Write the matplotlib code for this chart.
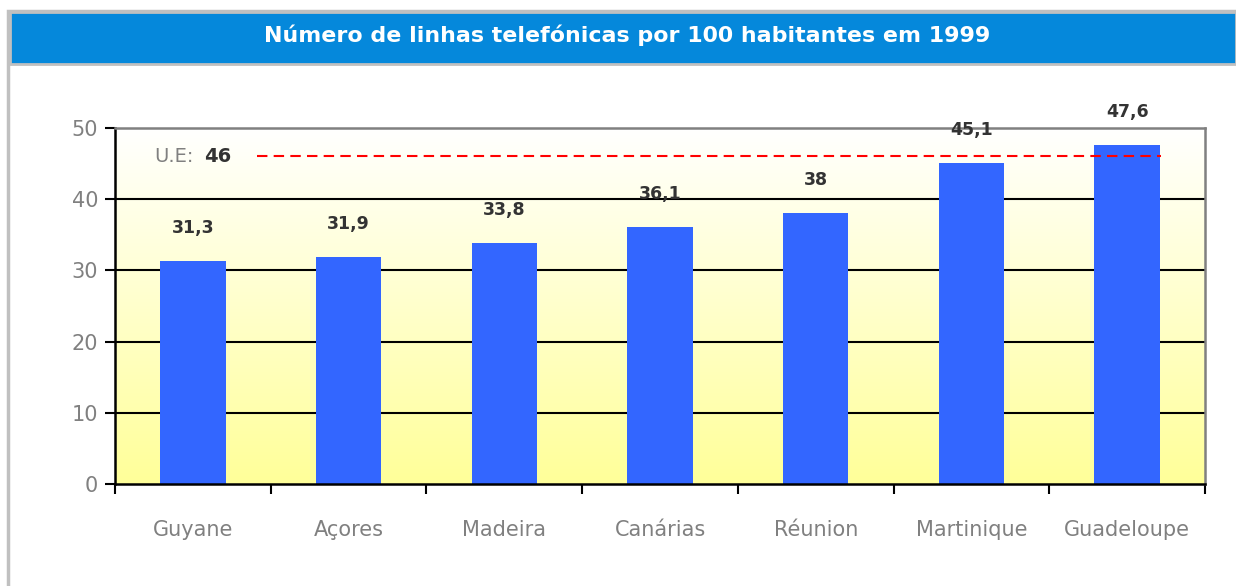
import numpy as np
import matplotlib
matplotlib.use("Agg")
import matplotlib.pyplot as plt
from matplotlib.colors import LinearSegmentedColormap
from matplotlib.patches import Rectangle

categories = ["Guyane", "Açores", "Madeira", "Canárias", "Réunion", "Martinique", "Guadeloupe"]
values = [31.3, 31.9, 33.8, 36.1, 38.0, 45.1, 47.6]
labels = ["31,3", "31,9", "33,8", "36,1", "38", "45,1", "47,6"]
eu_value = 46
title = "Número de linhas telefónicas por 100 habitantes em 1999"

W, H = 1236, 586
fig = plt.figure(figsize=(W / 100, H / 100), dpi=100)
fig.patch.set_facecolor("white")

# outer frame + title band
fig.add_artist(Rectangle((8 / W, -20 / H), (W + 10) / W, (H + 9) / H, transform=fig.transFigure,
                         facecolor="white", edgecolor="#C0C0C0", linewidth=2.5, zorder=0))
fig.add_artist(Rectangle((10 / W, (H - 64) / H), (W - 10) / W, 52 / H, transform=fig.transFigure,
                         facecolor="#0588DB", edgecolor="#C0C0C0", linewidth=2.0, zorder=1))
fig.text(627 / W, (H - 35) / H, title, color="white", fontsize=15.9, fontweight="bold",
         ha="center", va="center", family="DejaVu Sans")

ax = fig.add_axes([115 / W, (H - 484) / H, (1205 - 115) / W, (484 - 128) / H])
x = np.arange(len(categories))
ax.set_xlim(-0.5, len(categories) - 0.5)
ax.set_ylim(0, 50)

# gradient background
cmap = LinearSegmentedColormap.from_list("bg", ["#FFFF99", "#FFFFFF"])
grad = np.linspace(0, 1, 256).reshape(-1, 1)
ax.imshow(grad, aspect="auto", cmap=cmap, origin="lower",
          extent=[-0.5, len(categories) - 0.5, 0, 50], zorder=0)

for yv in [10, 20, 30, 40]:
    ax.axhline(yv, color="black", linewidth=1.5, zorder=1)

bars = ax.bar(x, values, width=0.42, color="#3366FF", zorder=2)
for xi, v, lab in zip(x, values, labels):
    ax.annotate(lab, (xi, v), xytext=(0, 24), textcoords="offset points",
                ha="center", va="center", fontsize=12.5, fontweight="bold", color="#333333",
                annotation_clip=False, zorder=4)

# EU reference line
ax.plot([0.41, 6.22], [eu_value, eu_value], color="#FF0000", linestyle=(0, (5, 3)),
        linewidth=1.5, zorder=3)
ax.text(-0.245, eu_value, "U.E:", ha="left", va="center", fontsize=14, color="#808080", zorder=4)
ax.text(0.075, eu_value, str(eu_value), ha="left", va="center", fontsize=14,
        fontweight="bold", color="#333333", zorder=4)

ax.set_yticks([0, 10, 20, 30, 40, 50])
ax.set_xticks(np.arange(-0.5, len(categories)), minor=False)
ax.set_xticklabels([])
ax.set_xticks(x, minor=True)
ax.set_xticklabels(categories, minor=True)
ax.tick_params(axis="x", which="major", direction="out", length=7, width=1.5, color="black")
ax.tick_params(axis="x", which="minor", length=0, pad=26, labelsize=15, labelcolor="#808080")
ax.tick_params(axis="y", direction="out", length=7, width=1.5, color="black",
               labelsize=15, labelcolor="#808080", pad=5)

for s in ["left", "bottom"]:
    ax.spines[s].set_color("black")
    ax.spines[s].set_linewidth(1.8)
for s in ["top", "right"]:
    ax.spines[s].set_color("#808080")
    ax.spines[s].set_linewidth(1.8)

fig.savefig("out.png", dpi=100)
